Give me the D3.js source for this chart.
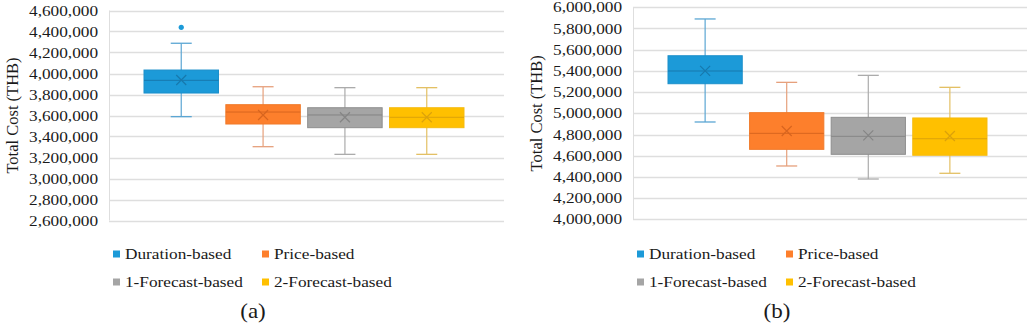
<!DOCTYPE html>
<html>
<head>
<meta charset="utf-8">
<script src="https://cdn.jsdelivr.net/npm/d3@7"></script>
<style>
  body { margin: 0; background: #fff; }
</style>
</head>
<body>
<div id="chart"></div>
<script>
var W = 1031, H = 329;

// series names (same for both panels)
var series = ["Duration-based", "Price-based", "1-Forecast-based", "2-Forecast-based"];

// panel (a)
var aTicks = [2600000, 2800000, 3000000, 3200000, 3400000, 3600000, 3800000, 4000000, 4200000, 4400000, 4600000];
var aMin    = [3589000, 3303000, 3230000, 3230000];
var aQ1     = [3814000, 3519000, 3484000, 3484000];
var aMedian = [3935000, 3633000, 3605000, 3583000];
var aQ3     = [4033000, 3703000, 3674000, 3674000];
var aMax    = [4288000, 3874000, 3865000, 3865000];
var aMean   = [3938000, 3605000, 3583000, 3583000];
var aOutliers = [[4440000], [], [], []];

// panel (b)
var bTicks = [4000000, 4200000, 4400000, 4600000, 4800000, 5000000, 5200000, 5400000, 5600000, 5800000, 6000000];
var bMin    = [4918000, 4503000, 4380000, 4434000];
var bQ1     = [5279000, 4660000, 4613000, 4604000];
var bMedian = [5399000, 4811000, 4783000, 4760000];
var bQ3     = [5543000, 5006000, 4962000, 4956000];
var bMax    = [5890000, 5292000, 5358000, 5245000];
var bMean   = [5400000, 4833000, 4792000, 4786000];
var bOutliers = [[], [], [], []];

//            fill       whisker    median/mean  border
var fills    = ["#1c9ad8", "#fd7f2c", "#a5a5a5", "#ffc000"];
var whiskers = ["#5ba6d3", "#e6a07c", "#ababab", "#e3c064"];
var darks    = ["#1779ad", "#d8651f", "#858585", "#dca20a"];
var borders  = ["#1c8fca", "#f07a2a", "#8e8e8e", "#f5bb10"];

var serif = "'Liberation Serif', 'DejaVu Serif', serif";
var sx = 1.15; // text in the picture is a little wide

var svg = d3.select("#chart").append("svg")
    .attr("width", W)
    .attr("height", H);

var fmt = d3.format(",");

function label(g, x, y, str, size, anchor) {
  return g.append("text")
    .attr("transform", "translate(" + x + "," + y + ") scale(" + sx + ",1)")
    .attr("text-anchor", anchor)
    .attr("font-family", serif)
    .attr("fill", "#1a1a1a")
    .style("font-size", size + "px")
    .text(str);
}

function panel(p) {
  var g = svg.append("g");

  var y = d3.scaleLinear()
      .domain([p.ticks[0], p.ticks[p.ticks.length - 1]])
      .range([p.bottom, p.top]);

  var x = d3.scaleBand()
      .domain(series)
      .range([p.left + 35, p.right - 40])
      .paddingInner(0.09);

  // gridlines
  g.selectAll("line.grid").data(p.ticks).enter()
    .append("line")
      .attr("class", "grid")
      .attr("x1", p.left)
      .attr("x2", p.right)
      .attr("y1", function(d) { return Math.round(y(d)) + 0.5; })
      .attr("y2", function(d) { return Math.round(y(d)) + 0.5; })
      .attr("stroke", "#dedede")
      .attr("stroke-width", 1.3);

  g.append("line")
    .attr("x1", p.left + 0.5).attr("x2", p.left + 0.5)
    .attr("y1", p.top).attr("y2", p.bottom)
    .attr("stroke", "#dedede");

  // tick labels
  p.ticks.forEach(function(t) {
    label(g, p.left - 11, y(t) + 5, fmt(t), 15, "end");
  });

  // axis title
  g.append("text")
    .attr("transform", "translate(" + (p.left - 91) + "," + ((p.top + p.bottom) / 2) + ") rotate(-90)")
    .attr("text-anchor", "middle")
    .attr("font-family", serif)
    .attr("fill", "#1a1a1a")
    .style("font-size", "16.5px")
    .text("Total Cost (THB)");

  var cap = 10.5;
  series.forEach(function(s, i) {
    var cx = x(s) + x.bandwidth() / 2;
    var bg = g.append("g");

    // whisker
    bg.append("line")
      .attr("x1", cx).attr("x2", cx)
      .attr("y1", y(p.max[i])).attr("y2", y(p.min[i]))
      .attr("stroke", whiskers[i]).attr("stroke-width", 1.2);
    [p.max[i], p.min[i]].forEach(function(v) {
      bg.append("line")
        .attr("x1", cx - cap).attr("x2", cx + cap)
        .attr("y1", y(v)).attr("y2", y(v))
        .attr("stroke", whiskers[i]).attr("stroke-width", 1.3);
    });

    // box
    bg.append("rect")
      .attr("x", x(s))
      .attr("width", x.bandwidth())
      .attr("y", y(p.q3[i]))
      .attr("height", y(p.q1[i]) - y(p.q3[i]))
      .attr("fill", fills[i])
      .attr("stroke", borders[i])
      .attr("stroke-width", 1);

    // median
    bg.append("line")
      .attr("x1", x(s)).attr("x2", x(s) + x.bandwidth())
      .attr("y1", y(p.median[i])).attr("y2", y(p.median[i]))
      .attr("stroke", darks[i]).attr("stroke-width", 1);

    // mean marker
    var my = y(p.mean[i]), r = 5;
    bg.append("path")
      .attr("d", "M" + (cx - r) + "," + (my - r) + "L" + (cx + r) + "," + (my + r) +
                 "M" + (cx - r) + "," + (my + r) + "L" + (cx + r) + "," + (my - r))
      .attr("stroke", darks[i]).attr("stroke-width", 1.2).attr("fill", "none");

    // outliers
    bg.selectAll("circle").data(p.outliers[i]).enter()
      .append("circle")
        .attr("cx", cx)
        .attr("cy", function(d) { return y(d); })
        .attr("r", 2.6)
        .attr("fill", fills[i]);
  });

  // legend
  var cols = [p.left + 4, p.left + 153];
  var rows = [259, 287];
  series.forEach(function(s, i) {
    var lx = cols[i % 2], ly = rows[Math.floor(i / 2)];
    g.append("rect")
      .attr("x", lx).attr("y", ly - 8.5)
      .attr("width", 7).attr("height", 7)
      .attr("fill", fills[i]);
    label(g, lx + 12, ly, s, 15, "start");
  });

  // caption
  label(g, p.left + 144, 318, p.caption, 20, "middle");
}

panel({ left: 109, right: 504, top: 10.5, bottom: 220.5, ticks: aTicks,
        min: aMin, q1: aQ1, median: aMedian, q3: aQ3, max: aMax, mean: aMean,
        outliers: aOutliers, caption: "(a)" });

panel({ left: 633, right: 1027, top: 7.3, bottom: 219.3, ticks: bTicks,
        min: bMin, q1: bQ1, median: bMedian, q3: bQ3, max: bMax, mean: bMean,
        outliers: bOutliers, caption: "(b)" });
</script>
</body>
</html>
